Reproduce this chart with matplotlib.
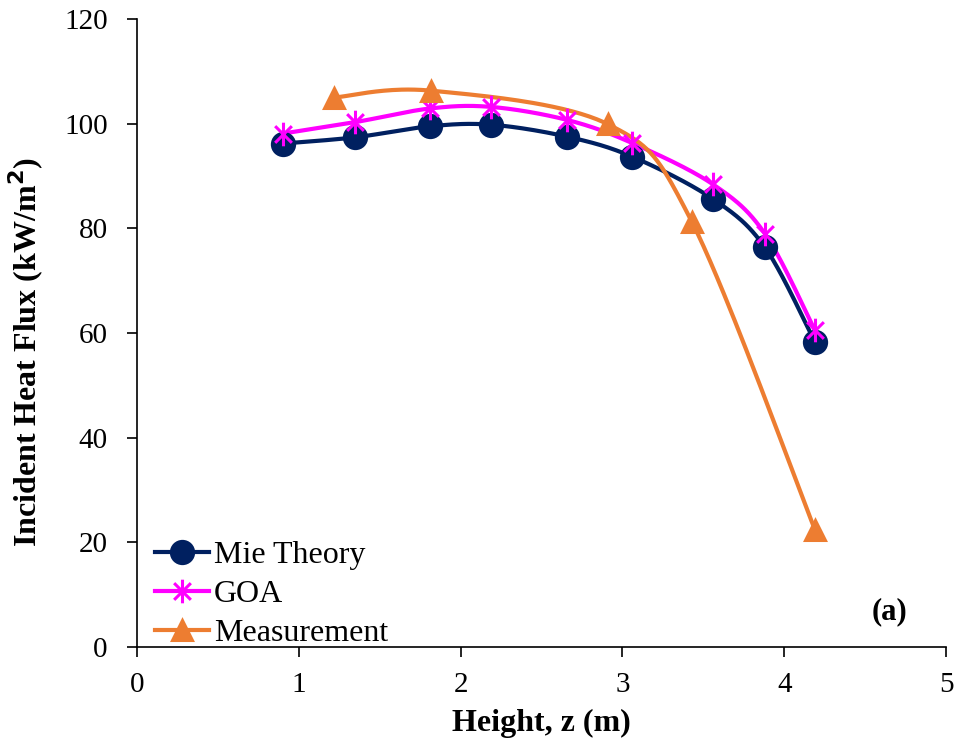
import numpy as np
import matplotlib.pyplot as plt
from matplotlib.path import Path

plt.rcParams['font.family'] = ['Liberation Serif', 'DejaVu Serif']

# heights (m) and incident heat flux (kW/m2)
z_mie = [0.90, 1.35, 1.81, 2.19, 2.66, 3.06, 3.56, 3.88, 4.19]
q_mie = [96.2, 97.4, 99.5, 99.8, 97.5, 93.7, 85.6, 76.4, 58.3]

z_goa = [0.90, 1.35, 1.81, 2.19, 2.66, 3.06, 3.56, 3.88, 4.19]
q_goa = [98.1, 100.3, 102.9, 103.2, 100.7, 96.3, 88.4, 79.0, 60.5]

z_meas = [1.22, 1.82, 2.91, 3.43, 4.19]
q_meas = [105.0, 106.3, 99.9, 81.2, 22.4]


def smooth(x, y, n=40):
    # spreadsheet-style smoothed line: cubic Bezier through the points
    p = np.column_stack([x, y]).astype(float)
    ext = np.vstack([p[0], p, p[-1]])
    t = np.linspace(0, 1, n)[:, None]
    out = []
    for i in range(len(p) - 1):
        p0, p1, p2, p3 = ext[i], ext[i + 1], ext[i + 2], ext[i + 3]
        c1 = p1 + (p2 - p0) / 6
        c2 = p2 - (p3 - p1) / 6
        seg = ((1 - t) ** 3) * p1 + 3 * ((1 - t) ** 2) * t * c1 \
            + 3 * (1 - t) * t ** 2 * c2 + t ** 3 * p2
        out.append(seg)
    s = np.vstack(out)
    return s[:, 0], s[:, 1]


# asterisk marker: vertical bar plus an x
d = 0.7071
star = Path([(0, -1), (0, 1), (-d, -d), (d, d), (-d, d), (d, -d)],
            [Path.MOVETO, Path.LINETO] * 3)

fig = plt.figure(figsize=(9.58, 7.45), dpi=100)
ax = fig.add_axes([0.143, 0.1315, 0.8445, 0.843])

series = [
    (z_mie, q_mie, '#002060', 'o', 16, 'Mie Theory'),
    (z_goa, q_goa, '#FF00FF', star, 17, 'GOA'),
    (z_meas, q_meas, '#ED7D31', '^', 15, 'Measurement'),
]
for x, y, c, m, ms, lab in series:
    sx, sy = smooth(x, y)
    ax.plot(sx, sy, color=c, lw=3, solid_capstyle='round', zorder=2)
    ax.plot(x, y, ls='none', marker=m, ms=ms, color=c, mec=c, mew=2.2, zorder=3)
    ax.plot([], [], color=c, lw=3, marker=m, ms=ms, mec=c, mew=2.2, label=lab)

ax.set_xlim(0, 5)
ax.set_ylim(0, 120)
ax.set_xticks(range(0, 6))
ax.set_yticks(range(0, 121, 20))
ax.spines['top'].set_visible(False)
ax.spines['right'].set_visible(False)
for s in ('left', 'bottom'):
    ax.spines[s].set_linewidth(1.2)
ax.tick_params(direction='out', length=7, width=1.2, labelsize=21)
ax.tick_params(axis='x', pad=11)
ax.tick_params(axis='y', pad=14)

ax.set_xlabel('Height, z (m)', fontsize=23, fontweight='bold', labelpad=8)
ax.set_ylabel('Incident Heat Flux (kW/m$^{\\mathbf{2}}$)', fontsize=23,
              fontweight='bold')
ax.yaxis.set_label_coords(-0.113, 0.47)

ax.text(4.65, 6.7, '(a)', fontsize=22, fontweight='bold', ha='center',
        va='center')

ax.legend(loc='lower left', frameon=False, fontsize=23, handlelength=1.7,
          handletextpad=0.15, labelspacing=0.3, borderaxespad=0.0,
          numpoints=1, bbox_to_anchor=(0.006, -0.022))

fig.savefig('out.png', dpi=100)
